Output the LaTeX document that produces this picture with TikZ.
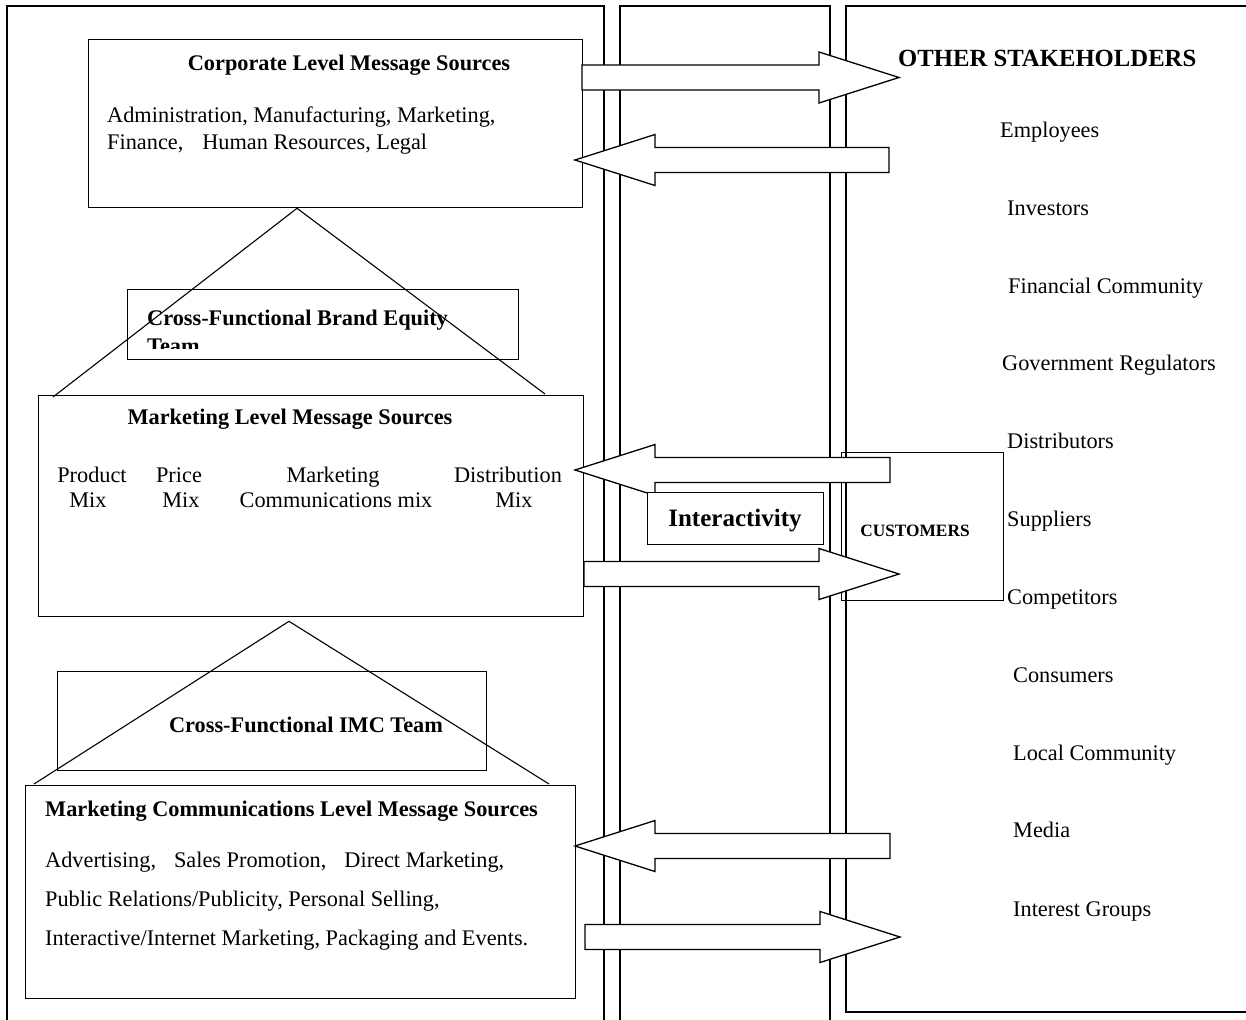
\documentclass[tikz,border=0pt]{standalone}
\usepackage{fontspec}
\setmainfont{Liberation Serif}
\usetikzlibrary{calc}
\newcommand{\blockarr}[3]{% #1 = direction (1 right, -1 left), #2 = tail, #3 = tip
  \draw[barrow] let \p1=(#2), \p2=(#3) in
    (\x1,{\y1+12.5pt}) -- ({\x2-#1*80pt},{\y1+12.5pt}) -- ({\x2-#1*80pt},{\y1+25.5pt})
    -- (\x2,\y2) -- ({\x2-#1*80pt},{\y1-25.5pt}) -- ({\x2-#1*80pt},{\y1-12.5pt})
    -- (\x1,{\y1-12.5pt}) -- cycle;}
\tikzset{
  panel/.style={line width=1.3pt},
  box/.style={draw, line width=1.3pt, rectangle, inner sep=0pt, anchor=north west},
  tri/.style={line width=1.1pt},
  barrow/.style={draw, fill=white, line width=1.3pt, line join=miter},
  body/.style={inner sep=0pt, font=\fontsize{22.3}{26}\selectfont},
  bodyw/.style={body, anchor=base west},
  bodyc/.style={body, anchor=base},
  ttl/.style={inner sep=0pt, font=\fontsize{22.3}{26}\selectfont\bfseries},
}
\begin{document}
\begin{tikzpicture}[x=1pt,y=-1pt]
\useasboundingbox[fill=white] (0,0) rectangle (1246,1019);

% panels
\draw[panel] (7,1025) -- (7,6) -- (604,6) -- (604,1025);
\draw[panel] (620,1025) -- (620,6) -- (830,6) -- (830,1025);
\draw[panel] (1252,6) -- (846,6) -- (846,1012) -- (1252,1012);

% boxes
\node[box, minimum width=494pt, minimum height=168pt] (corp) at (88,39) {};
\node[box, minimum width=391pt, minimum height=70pt] (brand) at (127,289) {};
\node[box, minimum width=545pt, minimum height=221pt] (mkt) at (38,395) {};
\node[box, minimum width=429pt, minimum height=99pt] (imc) at (57,671) {};
\node[box, minimum width=550pt, minimum height=213pt] (marcom) at (25,785) {};
\node[box, minimum width=162pt, minimum height=148pt] (cust) at (841,452) {};

% triangles
\draw[tri] ($(corp.south west)+(209,0)$) -- ($(mkt.north west)+(15,2)$);
\draw[tri] ($(corp.south west)+(209,0)$) -- ($(mkt.north west)+(507,-1)$);
\draw[tri] ($(mkt.south west)+(251,4)$) -- ($(marcom.north west)+(9,-1)$);
\draw[tri] ($(mkt.south west)+(251,4)$) -- ($(marcom.north west)+(524,-1)$);

% block arrows
\coordinate (aAt) at (582,77.5);  \coordinate (aAh) at (899,77.5);
\coordinate (aBt) at (889,160);   \coordinate (aBh) at (575,160);
\coordinate (aCt) at (890,470);   \coordinate (aCh) at (575,470);
\coordinate (aDt) at (584,574);   \coordinate (aDh) at (899,574);
\coordinate (aEt) at (890,846);   \coordinate (aEh) at (575,846);
\coordinate (aFt) at (585,937);   \coordinate (aFh) at (900,937);
\blockarr{1}{aAt}{aAh}
\blockarr{-1}{aBt}{aBh}
\blockarr{-1}{aCt}{aCh}
\blockarr{1}{aDt}{aDh}
\blockarr{-1}{aEt}{aEh}
\blockarr{1}{aFt}{aFh}

% interactivity box on top
\node[box, fill=white, minimum width=176pt, minimum height=52pt] (inter) at (647,492) {};
\node[inner sep=0pt, anchor=base, font=\fontsize{25}{29}\selectfont\bfseries] (intert) at (735,526.5) {Interactivity};

% corporate texts
\node[ttl, anchor=base] (corpt) at (349,70.5) {Corporate Level Message Sources};
\node[bodyw] (corp1) at (107,122.5) {Administration, Manufacturing, Marketing,};
\node[bodyw] (corp2) at (107,149.5) {Finance,\hspace{19pt}Human Resources, Legal};

% brand equity text (clipped)
\begin{scope}
\clip (128,290) rectangle (517,348);
\node[ttl, anchor=base west] (brand1) at (147,325.5) {Cross-Functional Brand Equity};
\node[ttl, anchor=base west] (brand2) at (147,353) {Team};
\end{scope}

% marketing texts
\node[ttl, anchor=base] (mktt) at (290,424.5) {Marketing Level Message Sources};
\node[bodyc] (m1a) at (92,482.5) {Product};
\node[bodyc] (m1b) at (88,507.5) {Mix};
\node[bodyc] (m2a) at (179,482.5) {Price};
\node[bodyc] (m2b) at (181,507.5) {Mix};
\node[bodyc] (m3a) at (333,482.5) {Marketing};
\node[bodyc] (m3b) at (336,507.5) {Communications mix};
\node[bodyc] (m4a) at (508,482.5) {Distribution};
\node[bodyc] (m4b) at (514,507.5) {Mix};

% IMC
\node[ttl, anchor=base] (imct) at (306,732.5) {Cross-Functional IMC Team};

% marcom texts
\node[ttl, anchor=base west] (marcomt) at (45,816.5) {Marketing Communications Level Message Sources};
\node[bodyw] (mc1) at (45,867.5) {Advertising,\hspace{18pt}Sales Promotion,\hspace{18pt}Direct Marketing,};
\node[bodyw] (mc2) at (45,906.5) {Public Relations/Publicity, Personal Selling,};
\node[bodyw] (mc3) at (45,945.5) {Interactive/Internet Marketing, Packaging and Events.};

% customers
\node[inner sep=0pt, anchor=base, font=\fontsize{17.3}{20}\selectfont\bfseries] (custt) at (915,536) {CUSTOMERS};

% stakeholders
\node[inner sep=0pt, anchor=base west, font=\fontsize{24.7}{29}\selectfont\bfseries] (stk) at (898,67) {OTHER STAKEHOLDERS};
\node[bodyw] (s1) at (1000,137.5) {Employees};
\node[bodyw] (s2) at (1007,215.5) {Investors};
\node[bodyw] (s3) at (1008,293.5) {Financial Community};
\node[bodyw] (s4) at (1002,370.5) {Government Regulators};
\node[bodyw] (s5) at (1007,448.5) {Distributors};
\node[bodyw] (s6) at (1007,526.5) {Suppliers};
\node[bodyw] (s7) at (1007,604.5) {Competitors};
\node[bodyw] (s8) at (1013,682.5) {Consumers};
\node[bodyw] (s9) at (1013,760.5) {Local Community};
\node[bodyw] (s10) at (1013,837.5) {Media};
\node[bodyw] (s11) at (1013,916.5) {Interest Groups};
\end{tikzpicture}
\end{document}
